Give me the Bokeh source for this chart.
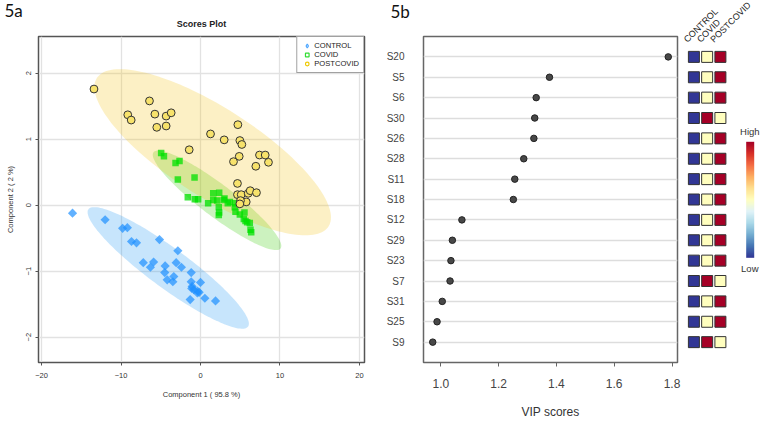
import numpy as np
from bokeh.plotting import figure
from bokeh.models import (Range1d, FactorRange, FixedTicker, Legend, LegendItem, Label,
                          LabelSet, ColumnDataSource, LinearColorMapper, ColorBar,
                          NumeralTickFormatter, Title)
from bokeh.layouts import row, column
from bokeh.embed import file_html
from bokeh.resources import INLINE
from bokeh.core.properties import value

FONT = "Liberation Sans"
PANEL_FONT = "Lato"

# ---------------- data: panel 5a (PLS-DA scores) ----------------
group_names = ["CONTROL", "COVID", "POSTCOVID"]

control_x = [-16.1, -12.0, -9.8, -9.2, -8.68, -8.05, -5.16, -2.85, -7.2, -5.9,
             -6.3, -4.45, -3.06, -2.4, -4.5, -4.19, -3.48, -3.36, -1.17, -1.17,
             -1.05, -0.84, -0.38, -0.17, 0.0, -1.3, 0.55, 1.89, -1.1, -0.4]
control_y = [-0.12, -0.22, -0.35, -0.34, -0.55, -0.57, -0.52, -0.69, -0.87, -0.86,
             -0.94, -0.92, -0.87, -0.94, -1.02, -1.13, -1.16, -1.08, -1.02, -1.16,
             -1.23, -1.28, -1.30, -1.32, -1.17, -1.43, -1.41, -1.45, -1.26, -1.33]

covid_x = [-4.95, -4.6, -3.14, -2.64, -2.85, -0.75, -1.6, -0.72, -0.3, 0.96,
           1.6, 2.35, 1.6, 2.1, 2.3, 2.35, 2.3, 2.93, 3.43, 3.69,
           4.31, 4.4, 4.95, 5.53, 5.45, 5.87, 6.2, 6.29, 6.38, 4.36,
           5.66, 3.02]
covid_y = [0.79, 0.74, 0.64, 0.67, 0.39, 0.42, 0.12, 0.09, 0.09, 0.03,
           0.18, 0.19, 0.08, 0.07, -0.03, -0.11, -0.15, 0.08, 0.03, 0.05,
           -0.03, -0.10, -0.14, -0.11, -0.21, -0.26, -0.27, -0.37, -0.41, 0.03,
           -0.24, 0.10]

post_x = [-13.4, -9.15, -8.72, -6.42, -5.74, -5.5, -4.32, -3.69, -4.32, -1.42,
          1.26, 2.98, 4.7, 4.95, 5.2, 4.87, 4.15, 7.42, 8.14, 8.55,
          6.96, 4.65, 4.65, 5.12, 6.0, 6.25, 7.04, 5.75, 5.03, 4.95]
post_y = [1.76, 1.37, 1.29, 1.58, 1.38, 1.18, 1.35, 1.40, 1.20, 0.84,
          1.08, 0.99, 1.22, 0.98, 0.92, 0.74, 0.66, 0.76, 0.76, 0.65,
          0.59, 0.33, 0.16, 0.16, 0.18, 0.22, 0.19, 0.05, 0.07, 0.02]

x_ticks = [-20, -10, 0, 10, 20]
y_ticks = [-2, -1, 0, 1, 2]

# ---------------- data: panel 5b (VIP scores) ----------------
features = ["S20", "S5", "S6", "S30", "S26", "S28", "S11", "S18",
            "S12", "S29", "S23", "S7", "S31", "S25", "S9"]
vip_scores = [1.787, 1.376, 1.330, 1.325, 1.322, 1.287, 1.256, 1.251,
              1.073, 1.040, 1.035, 1.032, 1.005, 0.987, 0.972]
vip_ticks = [1.0, 1.2, 1.4, 1.6, 1.8]
# relative level (1 = low, 2 = mid, 3 = high) per group
control_level = [1, 1, 1, 1, 1, 1, 1, 1, 1, 1, 1, 1, 1, 1, 1]
covid_level = [2, 2, 2, 3, 2, 2, 2, 2, 2, 2, 2, 3, 2, 2, 3]
postcovid_level = [3, 3, 3, 2, 3, 3, 3, 3, 3, 3, 3, 2, 3, 3, 2]


def conf_ellipse(x, y, chi2=5.991, n=160):
    x = np.asarray(x, float)
    y = np.asarray(y, float)
    L = np.linalg.cholesky(np.cov(x, y))
    t = np.linspace(0, 2 * np.pi, n)
    pts = L @ (np.vstack([np.cos(t), np.sin(t)]) * np.sqrt(chi2))
    return (x.mean() + pts[0]).tolist(), (y.mean() + pts[1]).tolist()


H = 422
TOP, BOTTOM = 36, 60

# ================= Panel 5a =================
p1 = figure(width=380, height=H, x_range=Range1d(-20.38, 20.63),
            y_range=Range1d(-2.383, 2.556), title=None,
            output_backend="svg", toolbar_location=None,
            min_border_left=38, min_border_right=16, min_border_top=TOP,
            min_border_bottom=BOTTOM)
p1.add_layout(Title(text="Scores Plot", align="center", vertical_align="top",
                    standoff=10.7, text_font=FONT, text_font_size="9px",
                    text_font_style="bold", text_color="#222222"), "above")
p1.add_layout(Title(text="5a", align="left", vertical_align="top", offset=-34,
                    standoff=-18.7, text_font=PANEL_FONT, text_font_size="17px",
                    text_font_style="normal", text_color="#111111"), "above")

ell_cols = ["#2196F3", "#33CC00", "#F5C518"]
for (gx, gy), col in zip([(control_x, control_y), (covid_x, covid_y), (post_x, post_y)], ell_cols):
    ex, ey = conf_ellipse(gx, gy)
    p1.patch(ex, ey, fill_color=col, fill_alpha=0.25, line_color=None)

# hidden renderers that only supply the open legend symbols
l1 = p1.scatter(control_x, control_y, marker="diamond", fill_color=None, line_color="#4DA6FF", line_width=1.2, visible=False)
l2 = p1.scatter(covid_x, covid_y, marker="square", fill_color=None, line_color="#33DD33", line_width=1.2, visible=False)
l3 = p1.scatter(post_x, post_y, marker="circle", fill_color=None, line_color="#EEC900", line_width=1.2, visible=False)

p1.scatter(control_x, control_y, marker="square", angle=np.pi / 4, size=6.5,
           fill_color="#1E90FF", fill_alpha=0.7, line_color=None)
p1.scatter(covid_x, covid_y, marker="square", size=6.5, fill_color="#00E000",
           fill_alpha=0.75, line_color=None)
p1.scatter(post_x, post_y, marker="circle", size=7.8, fill_color="#F7E26B",
           fill_alpha=1.0, line_color="#333333", line_width=1)

legend = Legend(items=[LegendItem(label=group_names[0], renderers=[l1]),
                       LegendItem(label=group_names[1], renderers=[l2]),
                       LegendItem(label=group_names[2], renderers=[l3])],
                location="top_right", margin=0, padding=4, spacing=0,
                glyph_width=11, glyph_height=9, label_height=9, label_standoff=2,
                label_text_font=FONT, label_text_font_size="7.6px",
                label_text_color="#222222", border_line_color="#444444",
                border_line_width=1.5, background_fill_alpha=1,
                inactive_fill_alpha=0)
p1.add_layout(legend)

p1.xaxis.ticker = FixedTicker(ticks=x_ticks)
p1.yaxis.ticker = FixedTicker(ticks=y_ticks)
p1.xaxis.axis_label = "Component 1 ( 95.8 %)"
p1.yaxis.axis_label = "Component 2 ( 2 %)"
p1.yaxis.major_label_orientation = "vertical"
for ax in (p1.xaxis, p1.yaxis):
    ax.axis_label_text_font = FONT
    ax.axis_label_text_font_size = "7.5px"
    ax.axis_label_text_font_style = "normal"
    ax.axis_label_text_color = "#333333"
    ax.major_label_text_font = FONT
    ax.major_label_text_font_size = "7.5px"
    ax.major_label_text_color = "#333333"
    ax.major_tick_out = 3
    ax.major_tick_in = 0
    ax.minor_tick_line_color = None
    ax.major_tick_line_color = "#555555"
    ax.axis_line_color = "#555555"
p1.xaxis.major_label_standoff = 7
p1.xaxis.axis_label_standoff = 9
p1.yaxis.major_label_standoff = 4
p1.yaxis.axis_label_standoff = 9
p1.grid.grid_line_color = "#E2E2E2"
p1.grid.grid_line_width = 1.3
p1.outline_line_color = "#555555"
p1.outline_line_width = 1.5

# ================= Panel 5b =================
yr = FactorRange(factors=features[::-1], range_padding=0.5, range_padding_units="absolute")
p2 = figure(width=302, height=H, x_range=Range1d(0.9401, 1.819), y_range=yr,
            title=None, output_backend="svg", toolbar_location=None,
            min_border_left=43, min_border_right=5, min_border_top=TOP,
            min_border_bottom=BOTTOM)
p2.add_layout(Title(text=" ", standoff=1.0, text_font=FONT, text_font_size="9px"), "above")
p2.add_layout(Title(text="5b", align="left", vertical_align="top", offset=-33,
                    standoff=0, text_font=PANEL_FONT, text_font_size="17px",
                    text_font_style="normal", text_color="#111111"), "above")
p2.scatter(vip_scores, features, size=6.5, fill_color="#484848", line_color="#222222", line_width=1)
p2.xaxis.ticker = FixedTicker(ticks=vip_ticks)
p2.xaxis.formatter = NumeralTickFormatter(format="0.0")
p2.xaxis.axis_label = "VIP scores"
p2.xaxis.axis_label_text_font = FONT
p2.xaxis.axis_label_text_font_size = "12px"
p2.xaxis.axis_label_text_font_style = "normal"
p2.xaxis.axis_label_text_color = "#333333"
p2.xaxis.major_label_text_font = FONT
p2.xaxis.major_label_text_font_size = "12px"
p2.xaxis.major_label_text_color = "#444444"
p2.xaxis.major_tick_out = 4
p2.xaxis.major_tick_in = 0
p2.xaxis.minor_tick_line_color = None
p2.xaxis.major_tick_line_color = "#666666"
p2.xaxis.axis_line_color = "#666666"
p2.xaxis.major_label_standoff = 12
p2.xaxis.axis_label_standoff = 14
p2.yaxis.major_label_text_font = FONT
p2.yaxis.major_label_text_font_size = "10px"
p2.yaxis.major_label_text_color = "#444444"
p2.yaxis.major_tick_line_color = None
p2.yaxis.axis_line_color = None
p2.yaxis.major_label_standoff = 13
p2.xgrid.grid_line_color = None
p2.ygrid.grid_line_color = "#DDDDDD"
p2.ygrid.grid_line_width = 1.5
p2.outline_line_color = "#666666"
p2.outline_line_width = 1.5

# ================= heat strip + colour bar =================
base = ["#313695", "#4575b4", "#74add1", "#abd9e9", "#e0f3f8", "#ffffbf",
        "#fee090", "#fdae61", "#f46d43", "#d73027", "#a50026"]
rgb = np.array([[int(c[i:i + 2], 16) for i in (1, 3, 5)] for c in base], float)
pos = np.linspace(0, 1, len(base))
tt = np.linspace(0, 1, 256)
pal = ["#%02x%02x%02x" % tuple(int(round(np.interp(v, pos, rgb[:, k]))) for k in range(3)) for v in tt]
mapper = LinearColorMapper(palette=pal, low=1, high=3)

# row geometry shared with panel 5b (frame TOP..H-BOTTOM, 16 slots)
row_px = (H - TOP - BOTTOM) / 16.0
first_row_y = H - BOTTOM - row_px      # screen y (from top) of the bottom feature
col_px = 13.25
col0_x = 693.4 - 682                   # x of the first column inside this figure
W3 = 79
p3 = figure(width=W3, height=H,
            x_range=Range1d(-col0_x / col_px, (W3 - col0_x) / col_px),
            y_range=Range1d((first_row_y - H) / row_px, first_row_y / row_px),
            output_backend="svg", toolbar_location=None, title=None,
            x_axis_location=None, y_axis_location=None,
            min_border_left=0, min_border_right=0, min_border_top=0,
            min_border_bottom=0)
p3.grid.grid_line_color = None
p3.outline_line_color = None
n = len(features)
hx, hy, hv = [], [], []
for i, (a, b, c) in enumerate(zip(control_level, covid_level, postcovid_level)):
    for j, v in enumerate((a, b, c)):
        hx.append(j); hy.append(n - 1 - i); hv.append(v)
hsrc = ColumnDataSource(dict(x=hx, y=hy, v=hv))
p3.rect(x="x", y="y", width=11, height=11, width_units="screen", height_units="screen",
        source=hsrc, fill_color={"field": "v", "transform": mapper},
        line_color="#333333", line_width=1)
hdr = ColumnDataSource(dict(x=list(range(len(group_names))), t=group_names))
p3.add_layout(LabelSet(x="x", y=H - 44, y_units="screen", text="t", source=hdr,
                       angle=45, angle_units="deg", x_offset=-5,
                       text_align="left", text_baseline="bottom",
                       text_font=value(FONT), text_font_size="9px",
                       text_color="#222222"))
cbar = ColorBar(color_mapper=mapper, orientation="vertical", width=8, height=116,
                location=(63.7, H - 257.3), padding=0, ticker=FixedTicker(ticks=[]),
                major_tick_line_color=None, minor_tick_line_color=None,
                major_label_text_font_size="0px", bar_line_color=None,
                border_line_color=None, background_fill_alpha=0)
p3.add_layout(cbar)
p3.add_layout(Label(x=67.3, y=H - 130.5, x_units="screen", y_units="screen", text="High",
                    text_font=FONT, text_font_size="9.5px", text_color="#333333",
                    text_align="center", text_baseline="middle"))
p3.add_layout(Label(x=67.3, y=H - 267.5, x_units="screen", y_units="screen", text="Low",
                    text_font=FONT, text_font_size="9.5px", text_color="#333333",
                    text_align="center", text_baseline="middle"))

layout = row(p1, p2, column(p3))
open("out.html", "w").write(file_html(layout, INLINE))
